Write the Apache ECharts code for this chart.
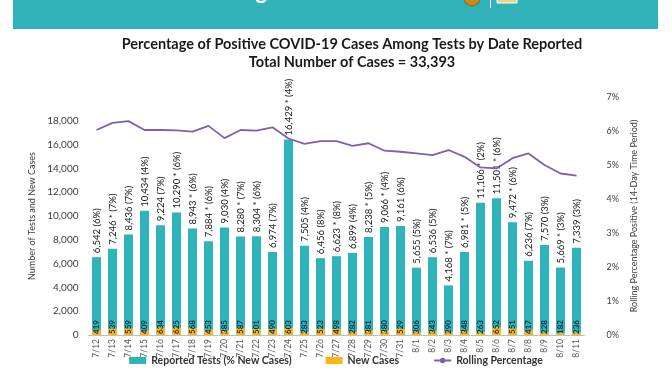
<!DOCTYPE html>
<html>
<head>
<meta charset="utf-8">
<script src="https://cdn.jsdelivr.net/npm/echarts@6/dist/echarts.min.js"></script>
<style>
html,body{margin:0;padding:0;background:#fff;}
#chart{width:672px;height:372px;}
</style>
</head>
<body>
<div id="chart"></div>
<script>
var categories = ['7/12','7/13','7/14','7/15','7/16','7/17','7/18','7/19','7/20','7/21','7/22','7/23','7/24','7/25','7/26','7/27','7/28','7/29','7/30','7/31','8/1','8/2','8/3','8/4','8/5','8/6','8/7','8/8','8/9','8/10','8/11'];
var reportedTests = [6542,7246,8436,10434,9224,10290,8943,7884,9030,8280,8304,6974,16429,7505,6456,6623,6899,8238,9066,9161,5655,6536,4168,6981,11106,11501,9472,6236,7570,5669,7339];
var newCases = [419,539,559,409,634,625,568,453,385,587,501,490,603,283,523,498,282,381,380,529,306,343,290,348,263,652,551,417,228,182,236];
var pctNew = [6,7,7,4,7,6,6,6,4,7,6,7,4,4,8,8,4,5,4,6,5,5,7,5,2,6,6,7,3,3,3];
var starred = [0,1,0,0,0,1,1,1,0,1,1,0,1,0,0,1,0,1,1,0,0,0,1,1,1,1,1,0,0,1,0];
var rollingPct = [6.03,6.24,6.29,6.03,6.03,6.02,5.98,6.15,5.79,6.03,6.01,6.11,5.78,5.62,5.70,5.70,5.56,5.64,5.42,5.39,5.34,5.29,5.44,5.24,4.93,4.90,5.20,5.34,5.00,4.75,4.69];
var leftTicks = {min:0, max:20000, interval:2000};
var rightTicks = {min:0, max:7, interval:1};

var TEAL = '#2fb4ba';
var YELLOW = '#f7b719';
var PURPLE = '#7f5fb0';
var FONT = 'Lato, "Open Sans", sans-serif';

function fmt(n){ return n.toLocaleString('en-US'); }

var chart = echarts.init(document.getElementById('chart'), null, {renderer:'canvas'});
chart.setOption({
  animation:false,
  backgroundColor:'#fff',
  textStyle:{fontFamily:FONT},
  graphic:[
    {type:'rect', shape:{x:13,y:-5,width:645,height:34}, style:{fill:'#31b3b9'}, z:-10},
    {type:'text', left:88, top:-19, style:{text:'COVID-19 Testing', fill:'#ffffff', font:'bold 22px Lato, sans-serif'}},
    {type:'circle', shape:{cx:472,cy:-2,r:8}, style:{fill:'#c88a1a', stroke:'#9a6410', lineWidth:1}},
    {type:'rect', shape:{x:490,y:0,width:1,height:8}, style:{fill:'#ffffff'}},
    {type:'rect', shape:{x:497,y:-6,width:20,height:9}, style:{fill:'#e8d58a', stroke:'#ffffff', lineWidth:1}},
    {type:'text', left:526, top:-12, style:{text:'SAN DIEGO', fill:'#ffffff', font:'bold 14px Lato, sans-serif'}}
  ],
  title:[
    {text:'Percentage of Positive COVID-19 Cases Among Tests by Date Reported', left:347, top:32, textAlign:'center',
     textStyle:{fontFamily:FONT, fontSize:14.5, fontWeight:'bold', color:'#1a1a1a'}},
    {text:'Total Number of Cases = 33,393', left:347, top:50, textAlign:'center',
     textStyle:{fontFamily:FONT, fontSize:14.5, fontWeight:'bold', color:'#1a1a1a'}}
  ],
  grid:{left:88.5, right:87.5, top:97, bottom:37, containLabel:false, outerBoundsMode:'none'},
  legend:{
    bottom:1, left:'center', itemGap:34, itemWidth:17, itemHeight:7,
    textStyle:{fontFamily:FONT, fontSize:10.5, fontWeight:'bold', color:'#333'},
    data:[
      {name:'Reported Tests (% New Cases)', icon:'rect'},
      {name:'New Cases', icon:'rect'},
      {name:'Rolling Percentage'}
    ]
  },
  xAxis:{
    type:'category', data:categories,
    axisLine:{lineStyle:{color:'#bfbfbf'}},
    axisTick:{show:false},
    axisLabel:{rotate:90, fontSize:8.5, color:'#595959', margin:4, interval:0, fontFamily:FONT}
  },
  yAxis:[
    {type:'value', min:leftTicks.min, max:leftTicks.max, interval:leftTicks.interval,
     splitLine:{show:false}, axisLine:{show:false}, axisTick:{show:false},
     axisLabel:{showMaxLabel:false, fontSize:10, color:'#404040', margin:10, fontFamily:FONT,
       formatter:function(v){return fmt(v);}},
     name:'Number of Tests and New Cases', nameLocation:'middle', nameGap:44,
     nameTextStyle:{fontSize:9, color:'#404040', fontFamily:FONT}},
    {type:'value', min:rightTicks.min, max:rightTicks.max, interval:rightTicks.interval, position:'right',
     splitLine:{show:false}, axisLine:{show:false}, axisTick:{show:false},
     axisLabel:{fontSize:9, color:'#404040', margin:22, fontFamily:FONT, formatter:'{value}%'},
     name:'Rolling Percentage Positive (14-Day Time Period)', nameLocation:'middle', nameGap:45, nameRotate:90,
     nameTextStyle:{fontSize:9, color:'#404040', fontFamily:FONT}}
  ],
  series:[
    {name:'Reported Tests (% New Cases)', type:'bar', yAxisIndex:0, data:reportedTests,
     barWidth:9, barGap:'-100%', itemStyle:{color:TEAL}, z:2,
     label:{show:true, position:'top', rotate:90, align:'left', verticalAlign:'middle', distance:4,
       fontSize:9.5, color:'#1a1a1a', fontFamily:FONT,
       formatter:function(p){var i=p.dataIndex; return fmt(reportedTests[i]) + (starred[i]?' * ':' ') + '(' + pctNew[i] + '%)';}}},
    {name:'New Cases', type:'bar', yAxisIndex:0, data:newCases,
     barWidth:9, itemStyle:{color:YELLOW}, z:3,
     label:{show:true, position:'insideBottom', rotate:90, align:'left', verticalAlign:'middle', distance:1,
       fontSize:8, fontWeight:'bold', color:'#1d2a44', fontFamily:FONT}},
    {name:'Rolling Percentage', type:'line', yAxisIndex:1, data:rollingPct,
     showSymbol:false, symbol:'none', lineStyle:{color:PURPLE, width:1.8}, itemStyle:{color:PURPLE}, z:5}
  ]
});
</script>
</body>
</html>
